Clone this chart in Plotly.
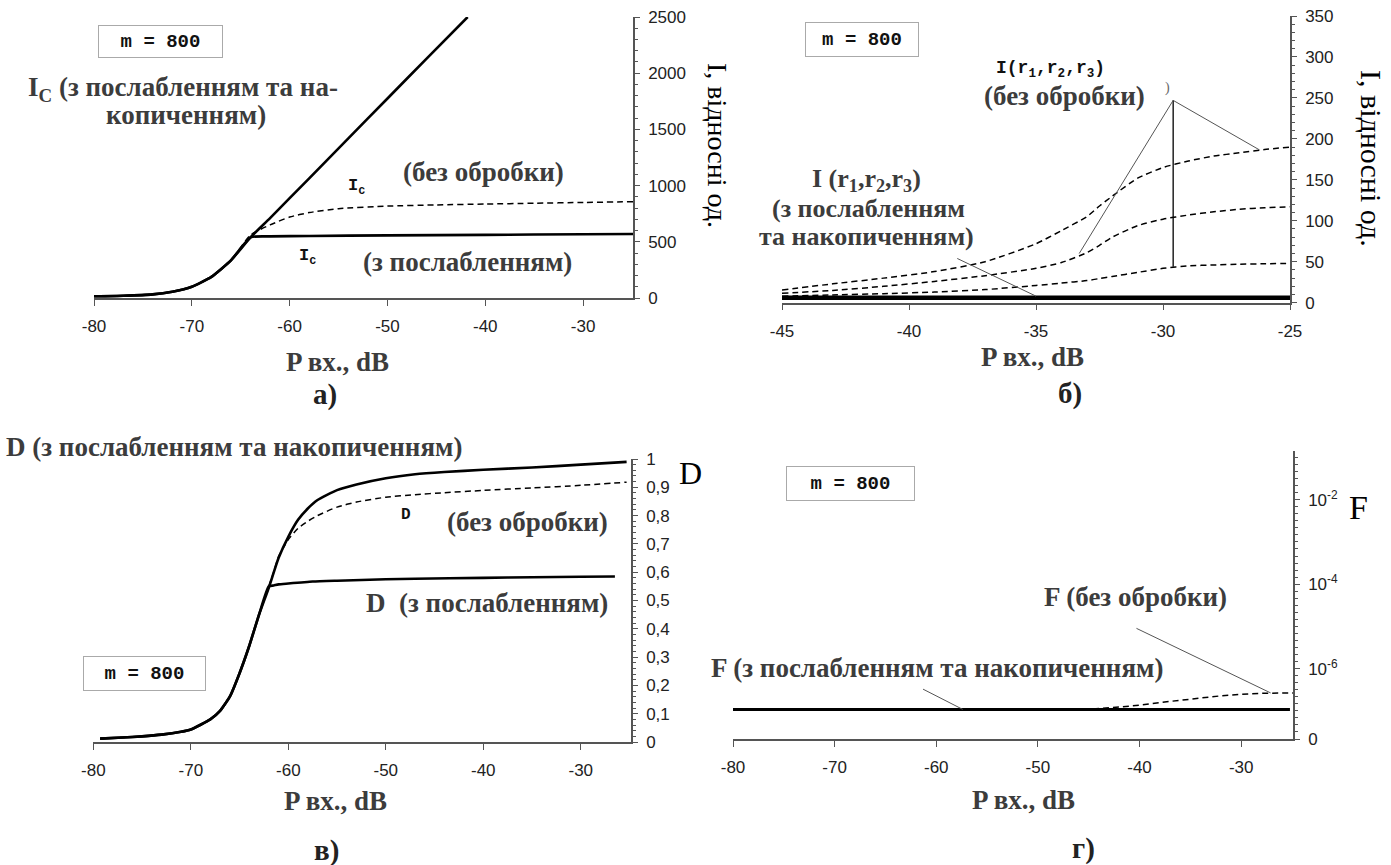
import numpy as np
import plotly.graph_objects as go

W, H = 1391, 865

# ---------------- data ----------------
# panel а) I_c vs P
A_ACC_P = [-80, -77, -74, -72, -70, -68, -66, -64, -62, -58, -54, -50, -46, -41.8]
A_ACC_I = [15, 20, 32, 56, 100, 188, 335, 540, 711, 1065, 1420, 1775, 2130, 2500]
A_RAW_P = [-80, -77, -74, -72, -70, -68, -66, -64, -62, -60, -58, -55, -50, -45, -40, -35, -30, -24.9]
A_RAW_I = [15, 20, 32, 56, 100, 188, 335, 560, 650, 720, 760, 795, 818, 828, 836, 843, 850, 857]
A_ATT_P = [-80, -77, -74, -72, -70, -68, -66, -64, -62, -58, -50, -40, -30, -24.9]
A_ATT_I = [15, 20, 32, 56, 100, 188, 335, 540, 548, 552, 557, 562, 567, 569]

# panel б) I(r1,r2,r3) vs P
B_P = [-45, -43, -41, -39, -37, -35, -34, -33, -32.5, -32, -31, -30, -29, -28, -27, -26, -25]
B_RAW_1 = [15.5, 23, 30, 38, 50, 72, 88, 105, 118, 130, 152, 165, 173, 179, 183, 187, 190]
B_RAW_2 = [11.5, 15, 20, 26, 33, 42, 49, 61, 70, 80, 94, 102, 107, 111, 114, 116, 117]
B_RAW_3 = [8, 9.5, 11, 13, 16, 21, 24, 27, 29.5, 32, 37, 42, 45, 46, 47, 47.5, 48]
B_ACC_P = [-45, -25]
B_ACC_1 = [4.5, 4.5]
B_ACC_2 = [6, 6]
B_ACC_3 = [7.5, 7.5]

# panel в) D vs P
C_ACC_P = [-79.3, -77, -75, -73, -71, -70, -68, -67, -66, -65, -64, -63, -62, -61, -60, -59, -58, -57, -55, -53,
           -50, -47, -44, -40, -35, -30, -25.3]
C_ACC_D = [0.012, 0.016, 0.02, 0.026, 0.036, 0.044, 0.08, 0.11, 0.16, 0.243, 0.34, 0.45, 0.545, 0.65, 0.725, 0.785,
           0.825, 0.855, 0.89, 0.91, 0.932, 0.946, 0.954, 0.962, 0.97, 0.98, 0.99]
C_RAW_P = [-79.3, -77, -75, -73, -71, -70, -68, -67, -66, -65, -64, -63, -62, -61.5, -61, -60, -59, -58, -57, -55,
           -53, -50, -47, -44, -40, -35, -30, -25.3]
C_RAW_D = [0.012, 0.016, 0.02, 0.026, 0.036, 0.044, 0.08, 0.11, 0.16, 0.243, 0.34, 0.45, 0.55, 0.6, 0.655, 0.715,
           0.755, 0.78, 0.80, 0.83, 0.848, 0.865, 0.874, 0.881, 0.889, 0.898, 0.907, 0.918]
C_ATT_P = [-79.3, -77, -75, -73, -71, -70, -68, -67, -66, -65, -64, -63, -62, -61.5, -61, -60, -57.5, -55, -50,
           -47, -40, -35, -30, -26.5]
C_ATT_D = [0.012, 0.016, 0.02, 0.026, 0.036, 0.044, 0.08, 0.11, 0.16, 0.243, 0.34, 0.45, 0.55, 0.553, 0.557,
           0.56, 0.567, 0.57, 0.575, 0.577, 0.58, 0.582, 0.584, 0.585]

# panel г) F vs P
D_ACC_P = [-80, -25.2]
D_ACC_F = [1.1e-7, 1.1e-7]
D_RAW_P = [-80, -45, -42, -40, -37, -35, -32, -30, -28, -24.9]
D_RAW_F = [1.1e-7, 1.1e-7, 1.25e-7, 1.38e-7, 1.7e-7, 1.94e-7, 2.3e-7, 2.5e-7, 2.65e-7, 2.7e-7]

# tick labels
X_TICKS_80 = [-80, -70, -60, -50, -40, -30]
X_TICKS_45 = [-45, -40, -35, -30, -25]
F_TICKS = [10 ** -7.66, 1e-6, 1e-4, 1e-2]
F_TICKTEXT = ["0", "10<sup>-6</sup>", "10<sup>-4</sup>", "10<sup>-2</sup>"]

# leader lines (data units)
B_APEX = (-29.6, 247)
B_LEADS = [(-29.6, 44), (-33.3, 60), (-26.2, 186.5)]
B_LEAD_ACC = [(-38.1, 54), (-35.0, 8)]
D_LEAD_RAW = [(-40.3, 10 ** -5.04), (-27.1, 2.7e-7)]
D_LEAD_ACC = [(-61.3, 10 ** -6.48), (-57.4, 1.1e-7)]

# ---------------- figure ----------------
fig = go.Figure()
SOLID = dict(color="black", width=2.6, shape="spline", smoothing=0.5)
DASH = dict(color="black", width=1.5, dash="6px,4px", shape="spline", smoothing=0.6)


def add(x, y, ax, line):
    fig.add_trace(go.Scatter(x=x, y=y, mode="lines", line=line, xaxis=ax[0], yaxis=ax[1],
                             showlegend=False, hoverinfo="skip"))


add(A_RAW_P, A_RAW_I, ("x", "y"), DASH)
add(A_ATT_P, A_ATT_I, ("x", "y"), SOLID)
add(A_ACC_P, A_ACC_I, ("x", "y"), SOLID)

for ys in (B_RAW_1, B_RAW_2, B_RAW_3):
    add(B_P, ys, ("x2", "y2"), DASH)
for ys in (B_ACC_1, B_ACC_2, B_ACC_3):
    add(B_ACC_P, ys, ("x2", "y2"), dict(color="black", width=2))

add(C_RAW_P, C_RAW_D, ("x3", "y3"), DASH)
add(C_ATT_P, C_ATT_D, ("x3", "y3"), SOLID)
add(C_ACC_P, C_ACC_D, ("x3", "y3"), SOLID)

add(D_RAW_P, D_RAW_F, ("x4", "y4"), dict(color="black", width=1.5, dash="6px,4px"))
add(D_ACC_P, D_ACC_F, ("x4", "y4"), dict(color="black", width=3))

# leader lines
LEAD = dict(color="#555", width=1)
for (x1, y1) in B_LEADS:
    ln = dict(color="black", width=1.3) if x1 == B_APEX[0] else LEAD
    add([B_APEX[0], x1], [B_APEX[1], y1], ("x2", "y2"), ln)
add([p[0] for p in B_LEAD_ACC], [p[1] for p in B_LEAD_ACC], ("x2", "y2"), LEAD)
add([p[0] for p in D_LEAD_RAW], [p[1] for p in D_LEAD_RAW], ("x4", "y4"), LEAD)
add([p[0] for p in D_LEAD_ACC], [p[1] for p in D_LEAD_ACC], ("x4", "y4"), LEAD)


def px(x):
    return x / W


def py(y):
    return 1 - y / H


TICKFONT = dict(family="Liberation Sans, Arial", size=17, color="#222")
AXCOL = "#555"


def xax(dom, rng, ticks):
    return dict(domain=[px(dom[0]), px(dom[1])], range=rng, tickmode="array", tickvals=ticks,
                ticktext=[str(t) for t in ticks], showline=True, automargin=False,
                linecolor=AXCOL, linewidth=1.5, ticks="outside", ticklen=6, tickcolor=AXCOL, tickwidth=1.2,
                showgrid=False, zeroline=False, tickfont=TICKFONT, ticklabelstandoff=6)


def yax(dom, rng, anchor, **kw):
    d = dict(domain=[py(dom[1]), py(dom[0])], range=rng, side="right", anchor=anchor, showline=True,
             automargin=False, linecolor=AXCOL, linewidth=1.5, ticks="outside", ticklen=5, tickcolor=AXCOL,
             tickwidth=1.2, showgrid=False, zeroline=False, tickfont=TICKFONT, ticklabelstandoff=5)
    d.update(kw)
    return d


minor_log = list(10 ** np.arange(-7.66, -0.84, 1 / 6))

fig.update_layout(
    template="none",
    width=W, height=H, margin=dict(l=0, r=0, t=0, b=0, pad=0),
    paper_bgcolor="white", plot_bgcolor="white", separators=", ", showlegend=False,
    xaxis=dict(xax((94, 633), [-80, -24.9], X_TICKS_80), anchor="y"),
    yaxis=yax((17, 298), [0, 2500], "x", dtick=500,
              minor=dict(dtick=100, ticks="outside", ticklen=3, tickcolor=AXCOL)),
    xaxis2=dict(xax((782, 1290), [-45, -25], X_TICKS_45), anchor="y2"),
    yaxis2=yax((16, 302.7), [0, 350], "x2", dtick=50,
               minor=dict(dtick=10, ticks="outside", ticklen=3, tickcolor=AXCOL)),
    xaxis3=dict(xax((93.3, 631), [-80, -24.85], X_TICKS_80), anchor="y3"),
    yaxis3=yax((459, 742), [0, 1], "x3", dtick=0.1,
               minor=dict(dtick=0.02, ticks="outside", ticklen=3, tickcolor=AXCOL)),
    xaxis4=dict(xax((733, 1293), [-80, -24.9], X_TICKS_80), anchor="y4"),
    yaxis4=yax((451, 739), [-7.66, -0.84], "x4", type="log",
               tickmode="array", tickvals=F_TICKS, ticktext=F_TICKTEXT,
               minor=dict(tickmode="array", tickvals=minor_log, ticks="outside", ticklen=3, tickcolor=AXCOL)),
)

SERIF = "Liberation Serif, Times New Roman"
MONO = "Liberation Mono, Courier New"
LAB = "#3c3c3c"


def txt(x, y, s, size=27, family=SERIF, color=LAB, bold=True, angle=0, **kw):
    fig.add_annotation(x=px(x), y=py(y), xref="paper", yref="paper", text=s, showarrow=False,
                       xanchor="center", yanchor="middle", textangle=angle,
                       font=dict(family=family, size=size, color=color,
                                 weight="bold" if bold else "normal"), **kw)


def box(x, y, w, h):
    txt(x, y, "m = 800", size=19, family=MONO, color="#111", bold=True, width=w, height=h,
        bordercolor="#aaa", borderwidth=1, bgcolor="white", borderpad=0)


# panel а
box(160, 41, 123, 31)
txt(183, 89, "I<sub>C</sub> (з послабленням та на-")
txt(186, 115, "копиченням)")
txt(356, 187, "I<sub>c</sub>", size=17, family=MONO, color="#111")
txt(307, 257, "I<sub>c</sub>", size=17, family=MONO, color="#111")
txt(484, 172, "(без обробки)")
txt(467, 262, "(з послабленням)")
txt(337, 362, "P вх., dB")
txt(325, 395, "а)", size=29, color="#222")
txt(717, 145, "I, відносні од.", size=28, color="black", bold=False, angle=90)

# panel б
box(862, 40, 112, 33)
txt(1050, 70, "I(r<sub>1</sub>,r<sub>2</sub>,r<sub>3</sub>)", size=18, family=MONO, color="#111")
txt(1064, 96, "(без обробки)")
txt(1167, 88, ")", size=14, color="#666", bold=False)
txt(866, 180, "I (r<sub>1</sub>,r<sub>2</sub>,r<sub>3</sub>)", size=26)
txt(868, 209, "(з послабленням", size=26)
txt(866, 237, "та накопиченням)", size=26)
txt(1032, 357, "P вх., dB")
txt(1070, 393, "б)", size=29, color="#222")
txt(1372, 158, "I, відносні од.", size=30, color="black", bold=False, angle=90)

# panel в
txt(234, 447, "D (з послабленням та накопиченням)")
txt(406, 515, "D", size=16, family=MONO, color="#111")
txt(527, 522, "(без обробки)")
txt(487, 603, "D  (з послабленням)")
box(144, 673, 121, 33)
txt(335, 801, "P вх., dB")
txt(326, 850, "в)", size=29, color="#222")
txt(690, 473, "D", size=32, color="black", bold=False)

# panel г
box(850, 483, 127, 33)
txt(1135, 597, "F (без обробки)")
txt(937, 668, "F (з послабленням та накопиченням)")
txt(1023, 800, "P вх., dB")
txt(1083, 848, "г)", size=29, color="#222")
txt(1358, 507, "F", size=34, color="black", bold=False)

fig.write_html("out.html", config={"displayModeBar": False},
               post_script="document.body.style.margin='0';document.body.style.overflow='hidden';")
